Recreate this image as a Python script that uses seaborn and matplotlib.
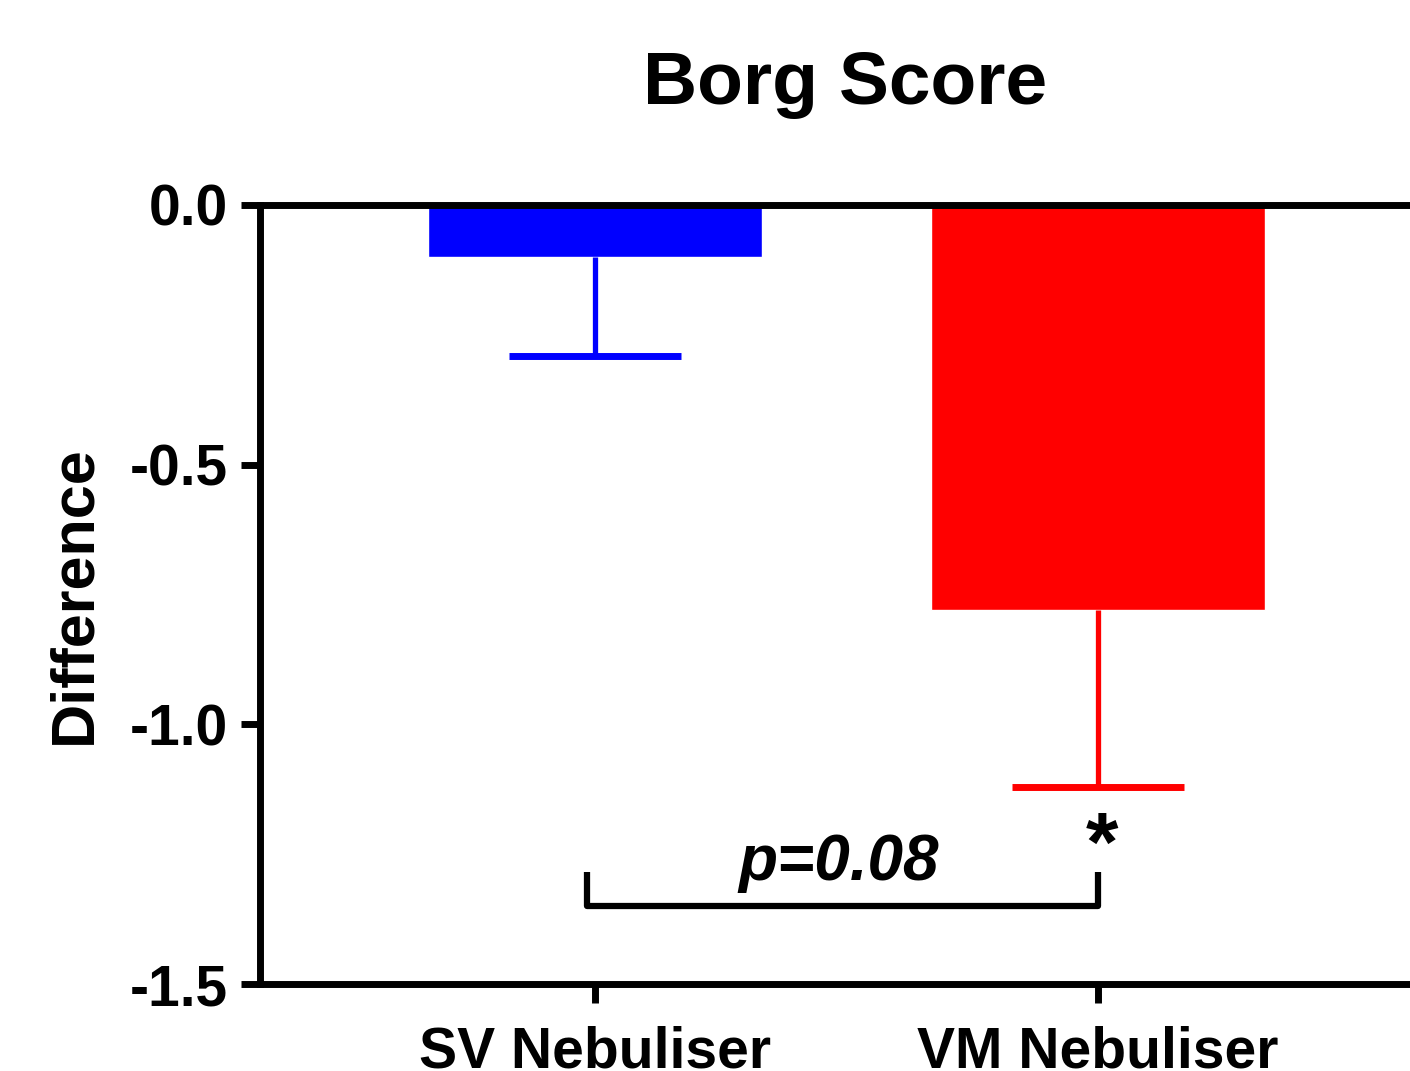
import numpy as np
import pandas as pd
import seaborn as sns
import matplotlib.pyplot as plt
from matplotlib.ticker import FormatStrFormatter

# values
groups = ["SV Nebuliser", "VM Nebuliser"]
means = [-0.10, -0.78]
sems = [0.19, 0.34]
bar_colors = ["#0000FF", "#FF0000"]
y_ticks = [0.0, -0.5, -1.0, -1.5]
p_label = "p=0.08"

sns.set_style("ticks")
plt.rcParams['font.family'] = ['Liberation Sans', 'DejaVu Sans']
plt.rcParams['font.weight'] = 'bold'
plt.rcParams['axes.unicode_minus'] = False
for k in ['text.color', 'axes.labelcolor', 'xtick.color', 'ytick.color', 'axes.edgecolor']:
    plt.rcParams[k] = 'black'

df = pd.DataFrame({"group": groups, "diff": means})

fig = plt.figure(figsize=(14.1, 10.71), dpi=100)
ax = fig.add_axes([0.1844, 0.0812, 0.826, 0.7274])

sns.barplot(data=df, x="group", y="diff", hue="group", palette=bar_colors,
            width=0.664, saturation=1, errorbar=None, legend=False, ax=ax)

# one-sided (downward) SEM bars
for i in range(len(groups)):
    eb = ax.errorbar(i, means[i], yerr=[[sems[i]], [0]], fmt='none',
                     ecolor=bar_colors[i], elinewidth=3.8, capsize=62, capthick=5)
    eb[1][1].set_visible(False)  # hide the upper cap sitting on the bar end

ax.set_xlim(-0.666, 1.65)
ax.set_ylim(-1.5, 0)
ax.set_yticks(y_ticks)
ax.yaxis.set_major_formatter(FormatStrFormatter('%.1f'))

for s in ['left', 'top', 'bottom']:
    ax.spines[s].set_linewidth(5)
    ax.spines[s].set_color('black')
ax.spines['right'].set_visible(False)

ax.tick_params(axis='both', width=5, length=14, labelsize=41, pad=9, color='black')
ax.tick_params(axis='x', pad=16)
for lab in ax.get_xticklabels() + ax.get_yticklabels():
    lab.set_fontweight('bold')

ax.set_xlabel("")
ax.set_ylabel("Difference", fontsize=44, fontweight='bold', labelpad=19)
ax.set_title("Borg Score", fontsize=54, fontweight='bold', pad=73, x=0.502)

# significance bracket
bx0, bx1 = -0.015, 1.0
ax.plot([bx0, bx0, bx1, bx1], [-1.285, -1.35, -1.35, -1.285],
        color='black', lw=4.5, solid_capstyle='butt')
ax.text(0.484, -1.30, p_label, fontsize=46, fontweight='bold', fontstyle='italic',
        ha='center', va='baseline')
ax.text(1.008, -1.24, "*", fontsize=60, fontweight='bold', ha='center', va='center')

fig.savefig("out.png", dpi=100)
